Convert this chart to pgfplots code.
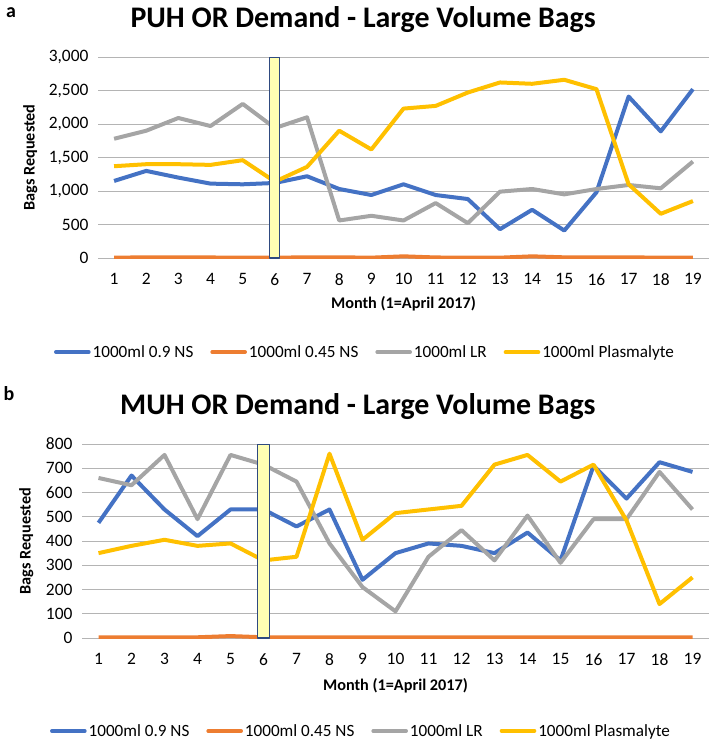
\documentclass[border=0pt]{standalone}
\usepackage{pgfplots}
\pgfplotsset{compat=1.18}
\usepackage{fontspec}
\setmainfont{Carlito}
\definecolor{sBlue}{HTML}{4472C4}
\definecolor{sOrange}{HTML}{ED7D31}
\definecolor{sGray}{HTML}{A5A5A5}
\definecolor{sYellow}{HTML}{FFC000}
\definecolor{gridc}{HTML}{B4B4B4}
\definecolor{boxfill}{HTML}{FFFFB3}
\definecolor{boxdraw}{HTML}{2F4A80}

\pgfplotsset{
  common/.style={
    scale only axis,
    anchor=south west,
    xmin=0.5, xmax=19.5,
    ymin=0,
    xtick={1,...,19},
    axis line style={draw=none},
    major tick length=0pt,
    ymajorgrids,
    grid style={gridc, line width=1bp},
    /pgf/number format/assume math mode=true,
    /pgf/number format/1000 sep={,},
    tick label style={font=\fontsize{17.5}{19}\selectfont},
    xticklabel style={yshift=-12bp},
    yticklabel style={xshift=-6bp},
    xlabel={\textbf{Month (1=April 2017)}},
    ylabel={\textbf{Bags Requested}},
    label style={font=\fontsize{16.3}{18}\selectfont},
    title style={font=\fontsize{30}{32}\selectfont\bfseries, anchor=center},
    legend columns=4,
    legend style={draw=none, fill=none, font=\fontsize{17.2}{19}\selectfont, anchor=center,
      /tikz/every even column/.append style={column sep=15bp},
      /tikz/every odd column/.append style={column sep=0bp}},
    legend image code/.code={\draw[#1, line width=3.6bp, line cap=round] (0bp,0bp) -- (33bp,0bp);},
    every axis plot/.append style={line width=4bp, line join=round},
  }
}

\begin{document}
\begin{tikzpicture}
\path[use as bounding box] (0,0) rectangle (709bp,-744bp);

\node[font=\fontsize{20}{21}\selectfont\bfseries] at (11bp,-13bp) {a};
\node[font=\fontsize{20}{21}\selectfont\bfseries] at (9bp,-394bp) {b};

% Panel a
\begin{axis}[common,
  at={(98bp,-258bp)}, width=611bp, height=201bp,
  ymax=3000, ytick={0,500,...,3000},
  title={PUH OR Demand - Large Volume Bags},
  title style={at={(axis description cs:0.434,1.159)}},
  xlabel style={at={(axis description cs:0.5,-0.226)}, anchor=center},
  ylabel style={at={(axis description cs:-0.111,0.5)}, anchor=center},
  legend style={at={(axis description cs:0.437,-0.468)}},
]
\addplot[sBlue] coordinates {(1,1150) (2,1300) (3,1200) (4,1110) (5,1100) (6,1120) (7,1220) (8,1030) (9,940) (10,1100) (11,940) (12,880) (13,430) (14,720) (15,410) (16,980) (17,2410) (18,1890) (19,2520)};
\addlegendentry{1000ml 0.9 NS}
\addplot[sOrange] coordinates {(1,5) (2,10) (3,10) (4,8) (5,5) (6,5) (7,10) (8,10) (9,5) (10,25) (11,8) (12,5) (13,5) (14,25) (15,10) (16,10) (17,10) (18,5) (19,5)};
\addlegendentry{1000ml 0.45 NS}
\addplot[sGray] coordinates {(1,1780) (2,1900) (3,2090) (4,1970) (5,2300) (6,1940) (7,2100) (8,560) (9,630) (10,560) (11,820) (12,520) (13,990) (14,1030) (15,950) (16,1030) (17,1090) (18,1040) (19,1440)};
\addlegendentry{1000ml LR}
\addplot[sYellow] coordinates {(1,1370) (2,1400) (3,1400) (4,1390) (5,1460) (6,1140) (7,1360) (8,1900) (9,1620) (10,2230) (11,2270) (12,2470) (13,2620) (14,2600) (15,2660) (16,2520) (17,1100) (18,660) (19,850)};
\addlegendentry{1000ml Plasmalyte}
\addplot[fill=boxfill, draw=boxdraw, line width=1.3bp, forget plot] coordinates {(5.83,0) (6.14,0) (6.14,3000) (5.83,3000)} -- cycle;
\end{axis}

% Panel b
\begin{axis}[common,
  at={(82bp,-638bp)}, width=627bp, height=194bp,
  ymax=800, ytick={0,100,...,800},
  title={MUH OR Demand - Large Volume Bags},
  title style={at={(axis description cs:0.440,1.16)}},
  xlabel style={at={(axis description cs:0.5,-0.247)}, anchor=center},
  ylabel style={at={(axis description cs:-0.089,0.5)}, anchor=center},
  legend style={at={(axis description cs:0.445,-0.479)}},
]
\addplot[sBlue] coordinates {(1,475) (2,670) (3,530) (4,420) (5,530) (6,530) (7,460) (8,530) (9,240) (10,350) (11,390) (12,380) (13,350) (14,435) (15,320) (16,710) (17,575) (18,725) (19,685)};
\addlegendentry{1000ml 0.9 NS}
\addplot[sOrange] coordinates {(1,3) (2,3) (3,3) (4,3) (5,8) (6,3) (7,3) (8,3) (9,3) (10,3) (11,3) (12,3) (13,3) (14,3) (15,3) (16,3) (17,3) (18,3) (19,3)};
\addlegendentry{1000ml 0.45 NS}
\addplot[sGray] coordinates {(1,660) (2,630) (3,755) (4,490) (5,755) (6,715) (7,645) (8,390) (9,210) (10,110) (11,335) (12,445) (13,320) (14,505) (15,310) (16,490) (17,490) (18,685) (19,530)};
\addlegendentry{1000ml LR}
\addplot[sYellow] coordinates {(1,350) (2,380) (3,405) (4,380) (5,390) (6,320) (7,335) (8,760) (9,405) (10,515) (11,530) (12,545) (13,715) (14,755) (15,645) (16,715) (17,485) (18,140) (19,250)};
\addlegendentry{1000ml Plasmalyte}
\addplot[fill=boxfill, draw=boxdraw, line width=1.3bp, forget plot] coordinates {(5.81,0) (6.19,0) (6.19,800) (5.81,800)} -- cycle;
\end{axis}
\end{tikzpicture}
\end{document}
